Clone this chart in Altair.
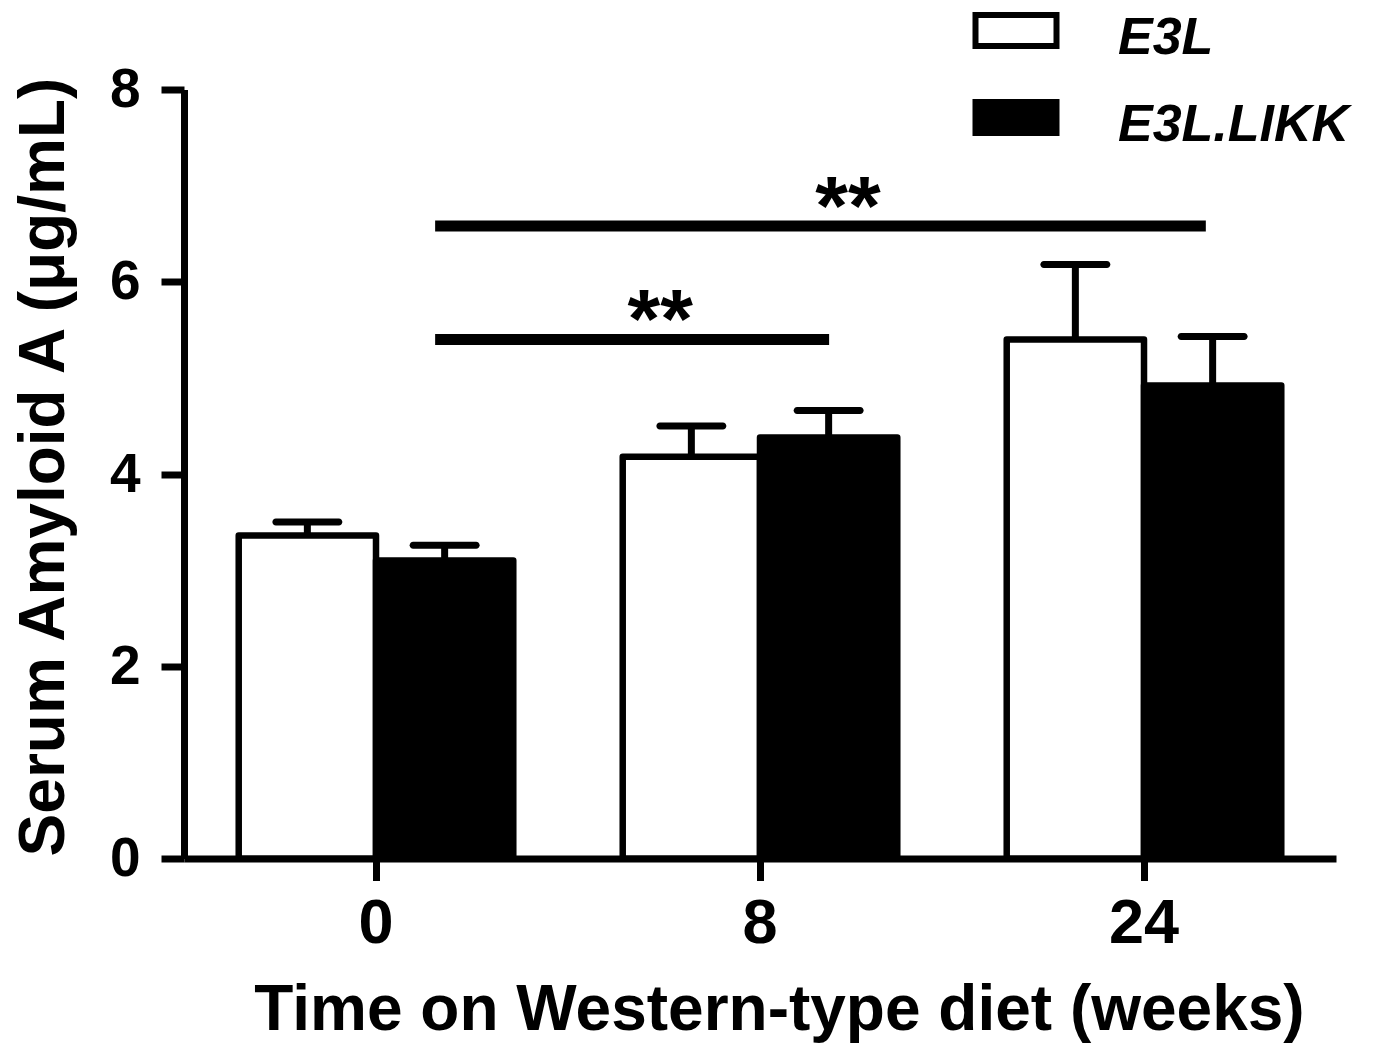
import altair as alt
import pandas as pd

weeks = ["0", "8", "24"]
genotypes = ["E3L", "E3L.LIKK"]
e3l_mean = [3.36, 4.18, 5.40]
e3l_upper = [3.50, 4.50, 6.18]
likk_mean = [3.10, 4.38, 4.92]
likk_upper = [3.26, 4.66, 5.43]

# significance annotations (x in category-index units)
sig_x1 = [0.154, 0.154]
sig_x2 = [1.18, 2.161]
sig_y = [5.40, 6.58]
star_x = [0.74, 1.229]
star_y = [5.31, 6.49]
star_label = ["**", "**"]

rows = []
for i, w in enumerate(weeks):
    rows.append({"week": w, "genotype": genotypes[0], "mean": e3l_mean[i], "upper": e3l_upper[i]})
    rows.append({"week": w, "genotype": genotypes[1], "mean": likk_mean[i], "upper": likk_upper[i]})
df = pd.DataFrame(rows)
sig_df = pd.DataFrame({"x1": sig_x1, "x2": sig_x2, "y": sig_y})
star_df = pd.DataFrame({"x": star_x, "y": star_y, "label": star_label})

FONT = "Liberation Sans"
y_scale = alt.Scale(domain=[0, 8], nice=False, zero=True)

x_axis = alt.Axis(
    title="Time on Western-type diet (weeks)",
    labelAngle=0, labelFont=FONT, labelFontSize=63, labelFontWeight="bold",
    labelColor="black", labelBaseline="alphabetic", labelPadding=62,
    tickSize=22, tickWidth=7, tickColor="black",
    domainColor="black", domainWidth=7,
    titleFont=FONT, titleFontSize=64, titleFontWeight="bold", titleColor="black",
    titleBaseline="alphabetic", titleAlign="center", titleX=595, titleY=170.5,
    grid=False,
)
y_axis = alt.Axis(
    title="Serum Amyloid A (μg/mL)", values=[0, 2, 4, 6, 8], format="d",
    labelFont=FONT, labelFontSize=55, labelFontWeight="bold", labelColor="black",
    labelPadding=21, tickSize=23, tickWidth=7, tickColor="black",
    domainColor="black", domainWidth=7,
    titleFont=FONT, titleFontSize=64, titleFontWeight="bold", titleColor="black",
    titleAngle=270, titleAlign="center", titleBaseline="alphabetic",
    titleX=-121, titleY=377, grid=False,
)

x_enc = alt.X("week:N", sort=weeks,
              scale=alt.Scale(paddingInner=0.285, paddingOuter=0.1425), axis=x_axis)
xoff = alt.XOffset("genotype:N", sort=genotypes,
                   scale=alt.Scale(paddingInner=0, paddingOuter=0))

legend = alt.Legend(
    title=None, orient="none", legendX=789, legendY=-95,
    symbolType="M-1.0125,-0.5625L1.0125,-0.5625L1.0125,0.2125L-1.0125,0.2125Z",
    symbolSize=6400, symbolStrokeColor="black", symbolStrokeWidth=6,
    labelFont=FONT, labelFontSize=52, labelFontWeight="bold", labelFontStyle="italic",
    labelColor="black", labelOffset=59, rowPadding=18, padding=0, labelLimit=500,
)

base = alt.Chart(df)
bars = base.mark_bar(stroke="black", strokeWidth=6.5, strokeJoin="round").encode(
    x=x_enc,
    xOffset=xoff,
    y=alt.Y("mean:Q", scale=y_scale, axis=y_axis),
    fill=alt.Fill("genotype:N", scale=alt.Scale(domain=genotypes, range=["white", "black"]),
                  legend=legend),
)
err_rules = base.mark_rule(color="black", strokeWidth=7).encode(
    x=alt.X("week:N", sort=weeks), xOffset=xoff,
    y=alt.Y("mean:Q", scale=y_scale), y2="upper:Q",
)
err_ticks = base.mark_tick(color="black", thickness=7, size=70, cornerRadius=3.5, opacity=1).encode(
    x=alt.X("week:N", sort=weeks), xOffset=xoff,
    y=alt.Y("upper:Q", scale=y_scale),
)
main = alt.layer(bars, err_rules, err_ticks)

ann_x = alt.Scale(domain=[-0.5, 2.5], nice=False, zero=False)
sig_rules = alt.Chart(sig_df).mark_rule(color="black", strokeWidth=11, strokeCap="butt").encode(
    x=alt.X("x1:Q", scale=ann_x, axis=None), x2="x2:Q",
    y=alt.Y("y:Q", scale=y_scale),
)
stars = alt.Chart(star_df).mark_text(
    font=FONT, fontSize=84, fontWeight="bold", baseline="alphabetic", align="center", color="black"
).encode(
    x=alt.X("x:Q", scale=ann_x, axis=None),
    y=alt.Y("y:Q", scale=y_scale),
    text="label:N",
)
annot = alt.layer(sig_rules, stars)

chart = alt.layer(main, annot).resolve_scale(x="independent").properties(
    width=1152, height=769,
    padding={"left": 176, "top": 81.5, "right": 30, "bottom": 184},
    autosize=alt.AutoSizeParams(type="none"),
    background="white",
).configure_view(stroke=None)

chart.save("out.html", embed_options={"renderer": "svg", "actions": False})
